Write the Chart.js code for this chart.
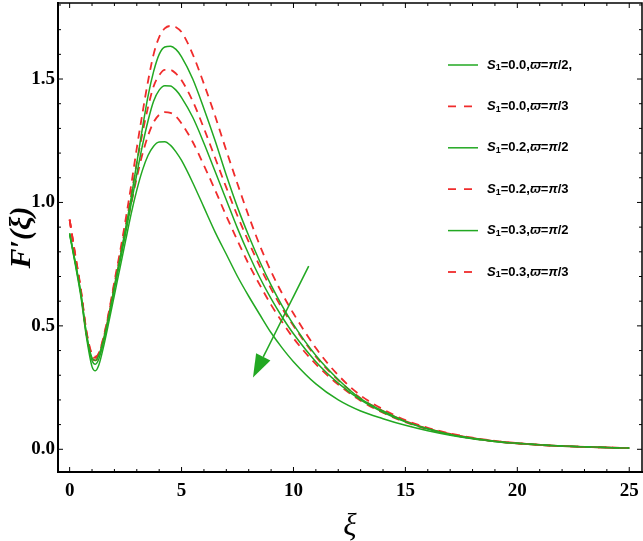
<!DOCTYPE html>
<html>
<head>
<meta charset="utf-8">
<script src="https://cdn.jsdelivr.net/npm/chart.js@4.4.1/dist/chart.umd.min.js"></script>
<style>
  html, body { margin: 0; padding: 0; background: #fff; }
  canvas { display: block; }
</style>
</head>
<body>
<canvas id="chart" width="643" height="541"></canvas>
<script>
const xi = [0, 0.25, 0.5, 0.75, 1, 1.15, 1.3, 1.5, 1.75, 2, 2.25, 2.5, 2.75, 3, 3.25,
  3.5, 3.75, 4, 4.25, 4.5, 4.75, 5, 5.5, 6, 6.5, 7, 7.5, 8, 8.5, 9,
  9.5, 10, 11, 12, 13, 14, 15, 16, 17, 18, 19, 20, 22, 25];

// S1=0.0, pi/2
const g1 = [0.875, 0.76, 0.635, 0.47, 0.37, 0.36, 0.38, 0.44, 0.54, 0.66,
  0.775, 0.895, 1.02, 1.16, 1.3, 1.43, 1.53, 1.6, 1.63, 1.633,
  1.62, 1.59, 1.5, 1.38, 1.25, 1.11, 0.98, 0.865, 0.76, 0.665,
  0.58, 0.505, 0.38, 0.283, 0.205, 0.155, 0.113, 0.083, 0.06, 0.045,
  0.033, 0.024, 0.013, 0.005];
// S1=0.0, pi/3
const r1 = [0.93, 0.79, 0.65, 0.48, 0.385, 0.375, 0.39, 0.45, 0.555, 0.68,
  0.8, 0.93, 1.07, 1.22, 1.36, 1.49, 1.6, 1.67, 1.705, 1.715,
  1.71, 1.69, 1.6, 1.48, 1.35, 1.21, 1.075, 0.945, 0.825, 0.72,
  0.63, 0.55, 0.41, 0.3, 0.218, 0.162, 0.118, 0.087, 0.064, 0.047,
  0.034, 0.025, 0.013, 0.005];
// S1=0.2, pi/2
const g2 = [0.875, 0.755, 0.63, 0.465, 0.36, 0.345, 0.365, 0.43, 0.535, 0.65,
  0.76, 0.875, 0.995, 1.115, 1.23, 1.33, 1.41, 1.455, 1.473, 1.472,
  1.455, 1.425, 1.345, 1.24, 1.125, 1.01, 0.895, 0.79, 0.695, 0.61,
  0.535, 0.468, 0.355, 0.268, 0.2, 0.15, 0.111, 0.082, 0.06, 0.044,
  0.032, 0.024, 0.013, 0.005];
// S1=0.2, pi/3
const r2 = [0.93, 0.785, 0.645, 0.475, 0.38, 0.37, 0.385, 0.445, 0.55, 0.67,
  0.785, 0.905, 1.03, 1.16, 1.28, 1.385, 1.47, 1.515, 1.537, 1.537,
  1.522, 1.495, 1.41, 1.3, 1.18, 1.06, 0.945, 0.84, 0.74, 0.65,
  0.57, 0.5, 0.375, 0.28, 0.207, 0.155, 0.114, 0.084, 0.062, 0.045,
  0.033, 0.024, 0.013, 0.005];
// S1=0.3, pi/2
const g3 = [0.87, 0.75, 0.62, 0.455, 0.335, 0.318, 0.34, 0.41, 0.515, 0.625,
  0.735, 0.845, 0.955, 1.05, 1.13, 1.19, 1.228, 1.245, 1.246, 1.232,
  1.205, 1.17, 1.08, 0.98, 0.88, 0.79, 0.7, 0.62, 0.545, 0.472,
  0.41, 0.355, 0.265, 0.2, 0.155, 0.124, 0.097, 0.075, 0.057, 0.043,
  0.032, 0.023, 0.012, 0.004];
// S1=0.3, pi/3
const r3 = [0.93, 0.78, 0.64, 0.47, 0.37, 0.36, 0.375, 0.435, 0.54, 0.655,
  0.77, 0.885, 0.995, 1.1, 1.195, 1.27, 1.325, 1.355, 1.366, 1.363,
  1.348, 1.32, 1.245, 1.15, 1.05, 0.945, 0.845, 0.75, 0.665, 0.585,
  0.515, 0.45, 0.345, 0.262, 0.197, 0.148, 0.11, 0.081, 0.06, 0.044,
  0.032, 0.024, 0.013, 0.005];

const xTicks = [0, 5, 10, 15, 20, 25];
const yTicks = [0.0, 0.5, 1.0, 1.5];
const s1Values = ["0.0", "0.0", "0.2", "0.2", "0.3", "0.3"];
const varpiValues = ["π/2,", "π/3", "π/2", "π/3", "π/2", "π/3"];
const arrowFrom = [10.68, 0.742];
const arrowTo = [8.19, 0.291];

const green = "#22a822";
const red = "#f02c2c";
const serif = '"Liberation Serif", "Times New Roman", serif';
const sans = '"Liberation Sans", Arial, sans-serif';

const series = [g1, r1, g2, r2, g3, r3];
const datasets = series.map((ys, i) => ({
  label: `S₁=${s1Values[i]},ϖ=${varpiValues[i]}`,
  data: ys.map((y, j) => ({ x: xi[j], y: y })),
  borderColor: i % 2 ? red : green,
  borderDash: i % 2 ? [8, 6] : [],
  borderWidth: i % 2 ? 1.8 : 1.5,
  pointRadius: 0,
  cubicInterpolationMode: "monotone",
  fill: false,
}));

// top/right frame and the small inward ticks (Mathematica style)
const frame = {
  id: "frame",
  afterDraw(chart) {
    const { ctx, chartArea: a, scales: { x, y } } = chart;
    ctx.save();
    ctx.strokeStyle = "#000";
    ctx.lineWidth = 1.5;
    ctx.beginPath();
    ctx.moveTo(a.left, a.top);
    ctx.lineTo(a.right, a.top);
    ctx.lineTo(a.right, a.bottom);
    ctx.stroke();
    ctx.lineWidth = 1;
    ctx.beginPath();
    for (let v = 0; v <= 25; v++) {
      const px = x.getPixelForValue(v);
      const len = v % 5 === 0 ? 5 : 3;
      ctx.moveTo(px, a.bottom); ctx.lineTo(px, a.bottom - len);
      ctx.moveTo(px, a.top); ctx.lineTo(px, a.top + len);
    }
    for (let k = 0; k <= 18; k++) {
      const py = y.getPixelForValue(k / 10);
      const len = k % 5 === 0 ? 5 : 3;
      ctx.moveTo(a.left, py); ctx.lineTo(a.left + len, py);
      ctx.moveTo(a.right, py); ctx.lineTo(a.right - len, py);
    }
    ctx.stroke();
    ctx.restore();
  }
};

// green arrow showing the S1 trend
const arrow = {
  id: "arrow",
  afterDatasetsDraw(chart) {
    const { ctx, scales: { x, y } } = chart;
    const x0 = x.getPixelForValue(arrowFrom[0]), y0 = y.getPixelForValue(arrowFrom[1]);
    const x1 = x.getPixelForValue(arrowTo[0]), y1 = y.getPixelForValue(arrowTo[1]);
    const ang = Math.atan2(y1 - y0, x1 - x0);
    const headLen = 23, headW = 8;
    const bx = x1 - headLen * Math.cos(ang), by = y1 - headLen * Math.sin(ang);
    ctx.save();
    ctx.strokeStyle = green;
    ctx.fillStyle = green;
    ctx.lineWidth = 1.5;
    ctx.beginPath();
    ctx.moveTo(x0, y0);
    ctx.lineTo(bx, by);
    ctx.stroke();
    ctx.beginPath();
    ctx.moveTo(x1, y1);
    ctx.lineTo(bx + headW * Math.sin(ang), by - headW * Math.cos(ang));
    ctx.lineTo(bx - headW * Math.sin(ang), by + headW * Math.cos(ang));
    ctx.closePath();
    ctx.fill();
    ctx.restore();
  }
};

// legend with the subscript and italic symbols
const legendBox = {
  id: "legendBox",
  afterDraw(chart) {
    const { ctx } = chart;
    chart.data.datasets.forEach((ds, i) => {
      const rowY = 65 + i * 41.4;
      ctx.save();
      ctx.strokeStyle = ds.borderColor;
      ctx.lineWidth = ds.borderWidth;
      ctx.setLineDash(i % 2 ? [8, 8] : []);
      ctx.beginPath();
      ctx.moveTo(448, rowY);
      ctx.lineTo(478, rowY);
      ctx.stroke();
      ctx.restore();

      const parts = [
        ["S", `italic bold 13px ${sans}`, 0],
        ["1", `bold 9px ${sans}`, 3],
        ["=" + s1Values[i] + ",", `bold 13px ${sans}`, 0],
        ["ϖ", `italic bold 13px ${sans}`, 0],
        ["=", `bold 13px ${sans}`, 0],
        ["π", `italic bold 13px ${sans}`, 0],
        [varpiValues[i].slice(1), `bold 13px ${sans}`, 0],
      ];
      let tx = 487;
      ctx.save();
      ctx.fillStyle = "#000";
      ctx.textBaseline = "middle";
      parts.forEach(([txt, font, dy]) => {
        ctx.font = font;
        ctx.fillText(txt, tx, rowY + dy);
        tx += ctx.measureText(txt).width;
      });
      ctx.restore();
    });
  }
};

new Chart(document.getElementById("chart"), {
  type: "line",
  data: { datasets },
  plugins: [frame, arrow, legendBox],
  options: {
    responsive: false,
    animation: false,
    devicePixelRatio: 1,
    layout: { padding: { top: 3, right: 1, left: 0, bottom: 0 } },
    plugins: { legend: { display: false }, tooltip: { enabled: false } },
    scales: {
      x: {
        type: "linear",
        min: -0.52,
        max: 25.57,
        afterBuildTicks: (s) => { s.ticks = xTicks.map((v) => ({ value: v })); },
        afterFit: (s) => { s.height = 69; s.paddingLeft = 0; s.paddingRight = 0; },
        ticks: {
          color: "#000",
          padding: 8,
          maxRotation: 0,
          font: { family: serif, size: 19, weight: "bold" },
          callback: (v) => String(v),
        },
        grid: { display: false, drawTicks: false },
        border: { display: true, color: "#000", width: 2 },
        title: {
          display: true,
          text: "ξ",
          color: "#000",
          padding: { top: 0, bottom: 0 },
          font: { family: serif, size: 31, style: "italic", lineHeight: 0.9 },
        },
      },
      y: {
        type: "linear",
        min: -0.092,
        max: 1.808,
        afterBuildTicks: (s) => { s.ticks = yTicks.map((v) => ({ value: v })); },
        afterFit: (s) => { s.width = 58; s.paddingTop = 0; s.paddingBottom = 0; },
        ticks: {
          color: "#000",
          padding: 3,
          font: { family: serif, size: 19, weight: "bold" },
          callback: (v) => v.toFixed(1),
        },
        grid: { display: false, drawTicks: false },
        border: { display: true, color: "#000", width: 2 },
        title: {
          display: true,
          text: "F′(ξ)",
          color: "#000",
          padding: { top: 4, bottom: 0 },
          font: { family: serif, size: 30, style: "italic", weight: "bold" },
        },
      },
    },
  },
});
</script>
</body>
</html>
